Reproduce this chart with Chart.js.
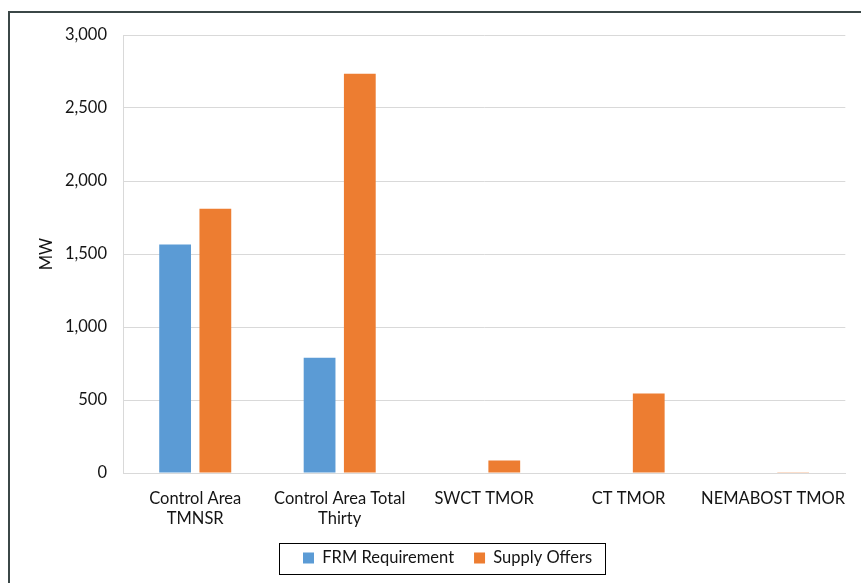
<!DOCTYPE html>
<html>
<head>
<meta charset="utf-8">
<script src="https://cdn.jsdelivr.net/npm/chart.js@4/dist/chart.umd.min.js"></script>
<style>
  html, body { margin: 0; padding: 0; background: #ffffff; }
  #wrap { width: 861px; height: 583px; }
</style>
</head>
<body>
<div id="wrap"><canvas id="chart" width="861" height="583"></canvas></div>
<script>
// Reserve categories and MW figures
const categories = [
  ['Control Area', 'TMNSR'],
  ['Control Area Total', 'Thirty'],
  'SWCT TMOR',
  'CT TMOR',
  'NEMABOST TMOR'
];
const frmRequirement = [1565, 790, 0, 0, 0];
const supplyOffers = [1810, 2735, 85, 545, 5];
const yTicks = { min: 0, max: 3000, step: 500 };

const FONT = 'Lato, "Open Sans", sans-serif';
const FONT_SIZE = 16.5;
const TEXT = '#141414';
const GRID = '#d9d9d9';
const PLOT_BOTTOM = 473;
const BOTTOM_PAD = -60;

// Outer frame of the chart
const framePlugin = {
  id: 'frame',
  beforeDraw(chart) {
    const ctx = chart.ctx;
    ctx.save();
    ctx.fillStyle = '#ffffff';
    ctx.fillRect(0, 0, chart.width, chart.height);
    ctx.restore();
  },
  afterDraw(chart) {
    const ctx = chart.ctx;
    ctx.save();
    ctx.strokeStyle = '#3b4747';
    ctx.lineWidth = 2;
    ctx.strokeRect(9, 12, chart.width + 20, chart.height + 20);
    ctx.restore();
  }
};

// Place the legend row and draw a box round it
const legendBoxPlugin = {
  id: 'legendBox',
  afterUpdate(chart) {
    const lg = chart.legend;
    if (!lg || !lg.legendHitBoxes.length) return;
    const first = lg.legendHitBoxes[0];
    const dx = 303 - first.left;
    const dy = 558 - (first.top + first.height / 2);
    lg.left += dx; lg.right += dx;
    lg.top += dy; lg.bottom += dy;
    for (const hb of lg.legendHitBoxes) { hb.left += dx; hb.top += dy; }
  },
  afterDraw(chart) {
    const lg = chart.legend;
    if (!lg || !lg.legendHitBoxes.length) return;
    const boxes = lg.legendHitBoxes;
    const first = boxes[0], last = boxes[boxes.length - 1];
    const cy = first.top + first.height / 2;
    const x0 = Math.round(first.left - 24);
    const x1 = Math.round(last.left + last.width + 13);
    const ctx = chart.ctx;
    ctx.save();
    ctx.strokeStyle = '#000000';
    ctx.lineWidth = 1;
    ctx.strokeRect(x0 + 0.5, Math.round(cy - 15.5) + 0.5, x1 - x0, 31);
    ctx.restore();
  }
};

new Chart(document.getElementById('chart'), {
  type: 'bar',
  data: {
    labels: categories,
    datasets: [
      {
        label: 'FRM Requirement',
        data: frmRequirement,
        backgroundColor: '#5b9bd5',
        barPercentage: 0.79,
        categoryPercentage: 0.557
      },
      {
        label: 'Supply Offers',
        data: supplyOffers,
        backgroundColor: '#ed7d31',
        barPercentage: 0.79,
        categoryPercentage: 0.557
      }
    ]
  },
  options: {
    responsive: false,
    animation: false,
    layout: { padding: { left: 0, right: 9, top: 35, bottom: BOTTOM_PAD } },
    plugins: {
      legend: {
        position: 'bottom',
        labels: {
          boxWidth: 11,
          boxHeight: 11,
          padding: 20,
          color: TEXT,
          font: { family: FONT, size: FONT_SIZE }
        }
      },
      tooltip: { enabled: false }
    },
    scales: {
      x: {
        grid: { display: false, drawTicks: false },
        border: { display: true, color: GRID, width: 1 },
        ticks: {
          color: TEXT,
          padding: 15,
          maxRotation: 0,
          autoSkip: false,
          font: { family: FONT, size: FONT_SIZE, lineHeight: 1.25 }
        },
        afterFit(scale) {
          const lgH = scale.chart.legend ? scale.chart.legend.height : 0;
          scale.height = scale.chart.height - PLOT_BOTTOM - lgH - BOTTOM_PAD;
        }
      },
      y: {
        min: yTicks.min,
        max: yTicks.max,
        grid: { color: GRID, drawTicks: false },
        border: { display: true, color: GRID, width: 1 },
        ticks: {
          stepSize: yTicks.step,
          color: TEXT,
          padding: 16,
          font: { family: FONT, size: FONT_SIZE },
          callback: v => v.toLocaleString('en-US')
        },
        title: {
          display: true,
          text: 'MW',
          color: TEXT,
          padding: { top: 37, bottom: 0 },
          font: { family: FONT, size: FONT_SIZE }
        },
        afterFit(scale) { scale.width = 123; }
      }
    }
  },
  plugins: [framePlugin, legendBoxPlugin]
});
</script>
</body>
</html>
